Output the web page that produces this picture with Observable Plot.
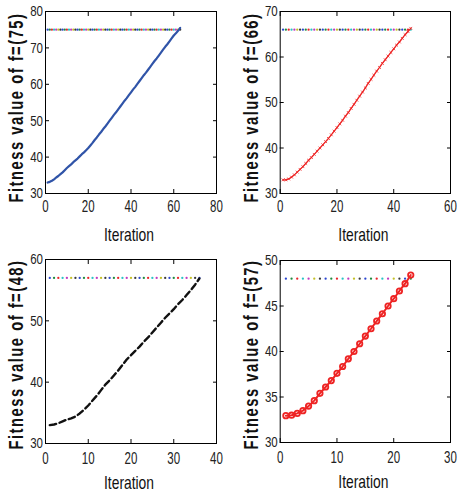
<!DOCTYPE html>
<html><head><meta charset="utf-8">
<script src="https://cdn.jsdelivr.net/npm/d3@7"></script>
<script src="https://cdn.jsdelivr.net/npm/@observablehq/plot@0.6"></script>
<style>
body{margin:0;background:#fff;}
#wrap{position:relative;width:457px;height:495px;overflow:hidden;background:#fff;}
.cell{position:absolute;}
</style></head><body><div id="wrap"></div>
<script>
// ---- data ----
const fitness75 = [33.0,33.2,33.5,33.9,34.4,34.8,35.3,35.8,36.4,37.0,
  37.5,38.0,38.6,39.1,39.6,40.2,40.8,41.3,41.9,42.5,
  43.2,43.9,44.7,45.4,46.2,46.9,47.7,48.4,49.2,50.0,
  50.8,51.6,52.3,53.1,53.9,54.7,55.5,56.2,57.0,57.8,
  58.6,59.3,60.1,60.9,61.7,62.5,63.2,64.0,64.8,65.6,
  66.4,67.1,67.9,68.7,69.5,70.3,71.0,71.8,72.6,73.4,
  74.0,74.7,75.5];
const fitness66 = [33.0,33.0,33.2,33.6,34.1,34.7,35.3,35.9,36.6,37.3,
  37.9,38.6,39.3,40.0,40.7,41.4,42.1,42.9,43.7,44.5,
  45.3,46.1,47.0,47.8,48.7,49.6,50.5,51.4,52.3,53.2,
  54.2,55.1,56.0,56.9,57.7,58.6,59.4,60.2,61.0,61.8,
  62.6,63.3,64.1,64.9,65.6,66.3];
const fitness48 = [33.0,33.1,33.3,33.6,33.9,34.1,34.4,34.9,35.5,36.2,
  37.0,37.8,38.7,39.6,40.3,41.1,41.9,42.8,43.7,44.4,
  45.1,45.8,46.6,47.3,48.1,48.9,49.7,50.5,51.2,51.9,
  52.7,53.4,54.2,55.0,55.9,56.9];
const fitness57 = [32.95,33.0,33.2,33.5,34.0,34.6,35.4,36.1,36.8,37.6,
  38.35,39.2,40.0,40.85,41.7,42.5,43.35,44.15,45.0,45.8,
  46.65,47.45,48.4];
const targets = [75, 66, 57, 48];
const yLabels = ["Fitness value of f=(75)", "Fitness value of f=(66)", "Fitness value of f=(48)", "Fitness value of f=(57)"];
const xLabel = "Iteration";
const xTicks1 = [0,20,40,60,80];
const xTicks2 = [0,20,40,60];
const xTicks3 = [0,10,20,30,40];
const xTicks4 = [0,10,20,30];
const yTicks1 = [30,40,50,60,70,80];
const yTicks2 = [30,40,50,60,70];
const yTicks3 = [30,40,50,60];
const yTicks4 = [30,35,40,45,50];
const markerColors = ["#2a45d0","#1f8a3e","#e8262a","#28c4c4","#c03ac0","#c4c028","#3a3a3a"];

// ---- layout/style ----
const panels = [
  {values: fitness75, target: targets[0], ylabel: yLabels[0], xT: xTicks1, yT: yTicks1, xd: [0,80], yd: [30,80],
   left: 0, top: 0, w: 228, h: 247, ml: 45, mr: 12, mt: 11, mb: 54, xPad: 7.5, xlDy: 47, ylDy: 5,
   color: "#3054a8", sw: 2.2},
  {values: fitness66, target: targets[1], ylabel: yLabels[1], xT: xTicks2, yT: yTicks2, xd: [0,60], yd: [30,70],
   left: 228, top: 0, w: 229, h: 247, ml: 51.7, mr: 7, mt: 11, mb: 54, xPad: 7.5, xlDy: 47.5, ylDy: 5,
   color: "#ee2424", sw: 1.3, marker: "times", mr2: 1.4, msw: 0.8},
  {values: fitness48, target: targets[2], ylabel: yLabels[2], xT: xTicks3, yT: yTicks3, xd: [0,40], yd: [30,60],
   left: 0, top: 247, w: 228, h: 248, ml: 45, mr: 12, mt: 12, mb: 52, xPad: 9, xlDy: 45, ylDy: 3,
   color: "#111", sw: 2.4, dash: "6.5,3.5"},
  {values: fitness57, target: targets[3], ylabel: yLabels[3], xT: xTicks4, yT: yTicks4, xd: [0,30], yd: [30,50],
   left: 228, top: 247, w: 229, h: 248, ml: 51.7, mr: 7, mt: 13, mb: 53, xPad: 9, xlDy: 45.3, ylDy: 3,
   color: "#ee2424", sw: 2, marker: "circle", mr2: 2.7, msw: 1.8}
];

const FONT = "'Liberation Sans Narrow', 'Liberation Sans', Arial, sans-serif";
const wrap = document.getElementById("wrap");

for (const p of panels) {
  const line = p.values.map((v, i) => ({it: i + 1, v}));
  const tgt = p.values.map((v, i) => ({it: i + 1, v: p.target, c: markerColors[i % markerColors.length]}));
  const marks = [
    Plot.dot(tgt, {x: "it", y: "v", r: 1.15, fill: "c"}),
    Plot.line(line, {x: "it", y: "v", stroke: p.color, strokeWidth: p.sw, strokeDasharray: p.dash, strokeLinejoin: "round"}),
  ];
  if (p.marker) marks.push(Plot.dot(line, {x: "it", y: "v", symbol: p.marker, r: p.mr2, stroke: p.color, strokeWidth: p.msw, fill: "none"}));
  marks.push(
    Plot.frame({stroke: "#000", strokeWidth: 1}),
    Plot.axisX({ticks: p.xT, tickSize: 0, tickPadding: p.xPad, fontSize: 16, fill: "#222", label: null}),
    Plot.axisX({ticks: p.xT, tickSize: 4, dy: -4, fill: "none", stroke: "#000", label: null}),
    Plot.axisX({anchor: "top", ticks: p.xT, tickSize: 4, dy: 4, fill: "none", stroke: "#000", label: null}),
    Plot.axisY({ticks: p.yT, tickSize: 0, tickPadding: 2.5, fontSize: 15.5, fill: "#222", label: null}),
    Plot.axisY({ticks: p.yT, tickSize: 4, dx: 4, fill: "none", stroke: "#000", label: null}),
    Plot.axisY({anchor: "right", ticks: p.yT, tickSize: 4, dx: -4, fill: "none", stroke: "#000", label: null}),
    Plot.text([p.ylabel], {text: d => d, frameAnchor: "left", rotate: -90, dx: -28.5, dy: p.ylDy, lineAnchor: "middle", textAnchor: "middle", fontSize: 19.5, fontWeight: "bold", fill: "#111", fontFamily: "'Liberation Sans', Arial, sans-serif"}),
    Plot.text([xLabel], {text: d => d, frameAnchor: "bottom", dx: -2, dy: p.xlDy, lineAnchor: "bottom", fontSize: 19, fill: "#111", fontFamily: "'Liberation Sans', Arial, sans-serif"})
  );
  const svg = Plot.plot({
    width: p.w, height: p.h,
    marginLeft: p.ml, marginRight: p.mr, marginTop: p.mt, marginBottom: p.mb,
    x: {domain: p.xd, label: null},
    y: {domain: p.yd, label: null},
    color: {type: "identity"},
    style: {fontFamily: FONT, background: "#fff", color: "#000", overflow: "visible"},
    marks
  });
  d3.select(svg).selectAll('g[aria-label="x-axis tick label"] text, g[aria-label="y-axis tick label"] text').each(function() {
    const n = this.textContent.length;
    this.setAttribute("textLength", 6.4 * n);
    this.setAttribute("lengthAdjust", "spacingAndGlyphs");
  });
  d3.select(svg).selectAll('g[aria-label="text"] text').each(function() {
    const t = this.textContent;
    if (t === xLabel) {
      this.setAttribute("textLength", 50);
    } else {
      this.style.letterSpacing = "2px";
      this.setAttribute("textLength", 190);
    }
    this.setAttribute("lengthAdjust", "spacingAndGlyphs");
  });
  const cell = document.createElement("div");
  cell.className = "cell";
  cell.style.left = p.left + "px";
  cell.style.top = p.top + "px";
  cell.appendChild(svg);
  wrap.appendChild(cell);
}
</script></body></html>
